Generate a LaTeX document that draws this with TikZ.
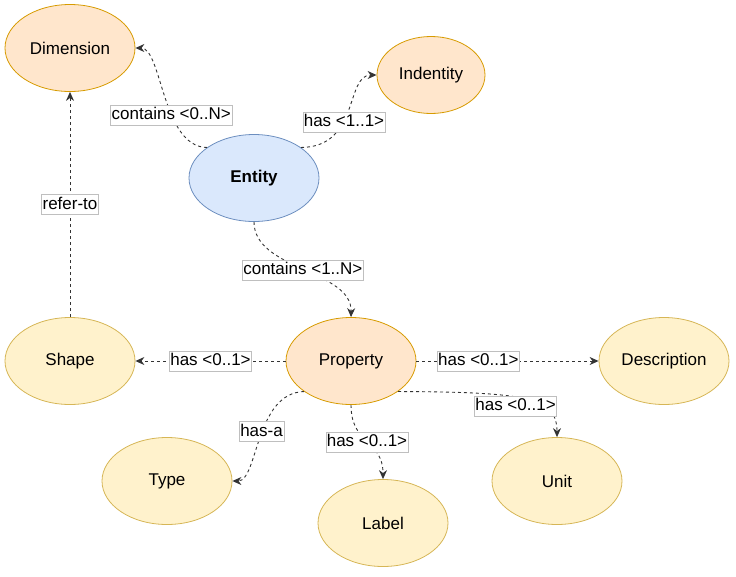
\documentclass[tikz,border=0pt]{standalone}
\usepackage{fontspec}
\setmainfont{Liberation Sans}
\usetikzlibrary{shapes.geometric,arrows.meta}

\definecolor{blueFill}{HTML}{DAE8FC}
\definecolor{blueLine}{HTML}{6C8EBF}
\definecolor{orangeFill}{HTML}{FFE6CC}
\definecolor{orangeLine}{HTML}{D79B00}
\definecolor{yellowFill}{HTML}{FFF2CC}
\definecolor{yellowLine}{HTML}{D6B656}

\begin{document}
\begin{tikzpicture}[x=1pt, y=-1pt,
    concept/.style={ellipse, line width=0.8pt, minimum width=130pt,
      minimum height=87pt, inner sep=0pt, font=\fontsize{17}{20}\selectfont},
    blueNode/.style={concept, fill=blueFill, draw=blueLine},
    orangeNode/.style={concept, fill=orangeFill, draw=orangeLine},
    yellowNode/.style={concept, fill=yellowFill, draw=yellowLine},
    link/.style={draw=black!80, line width=0.9pt, dash pattern=on 3pt off 3pt,
      -{Stealth[length=9pt, width=8pt]}},
    lbl/.style={fill=white, draw=black!25, line width=0.5pt, solid,
      inner xsep=1pt, inner ysep=1.5pt, text height=13pt, text depth=4pt,
      text=black, font=\fontsize{17}{20}\selectfont}]
  \useasboundingbox (0,0) rectangle (736,576);

  \node [orangeNode] (dim)    at (70,48)   {Dimension};
  \node [orangeNode, minimum width=108pt, minimum height=77pt]
                     (ident)  at (431,75)  {Indentity};
  \node [blueNode]   (entity) at (254,178) {\textbf{Entity}};
  \node [orangeNode] (prop)   at (351,361) {Property};
  \node [yellowNode] (shape)  at (70,361)  {Shape};
  \node [yellowNode] (desc)   at (664,361) {Description};
  \node [yellowNode] (type)   at (167,481) {Type};
  \node [yellowNode] (label)  at (383,523) {Label};
  \node [yellowNode] (unit)   at (557,481) {Unit};

  \draw [link] (entity.147) .. controls (162,147) and (162,48) ..
    node [lbl, pos=0.38] {contains <0..N>} (dim.east);
  \draw [link] (entity.33) .. controls (360,147) and (345,75) ..
    node [lbl, pos=0.4] {has <1..1>} (ident.west);
  \draw [link] (entity.south) .. controls (254,270) and (352,270) ..
    node [lbl] {contains <1..N>} (prop.north);

  \draw [link] (prop) -- node [lbl] {has <0..1>} (shape);
  \draw [link] (prop) -- node [lbl, pos=0.34] {has <0..1>} (desc);
  \draw [link] (prop.213) .. controls (255,393) and (258,481) ..
    node [lbl, pos=0.46] {has-a} (type.east);
  \draw [link] (prop.south) .. controls (351,445) and (383,440) ..
    node [lbl] {has <0..1>} (label.north);
  \draw [link] (prop.-33) .. controls (530,392) and (557,398) ..
    node [lbl, pos=0.45, xshift=-4pt, yshift=-8pt] {has <0..1>} (unit.north);

  \draw [link] (shape) -- node [lbl] {refer-to} (dim);
\end{tikzpicture}
\end{document}
